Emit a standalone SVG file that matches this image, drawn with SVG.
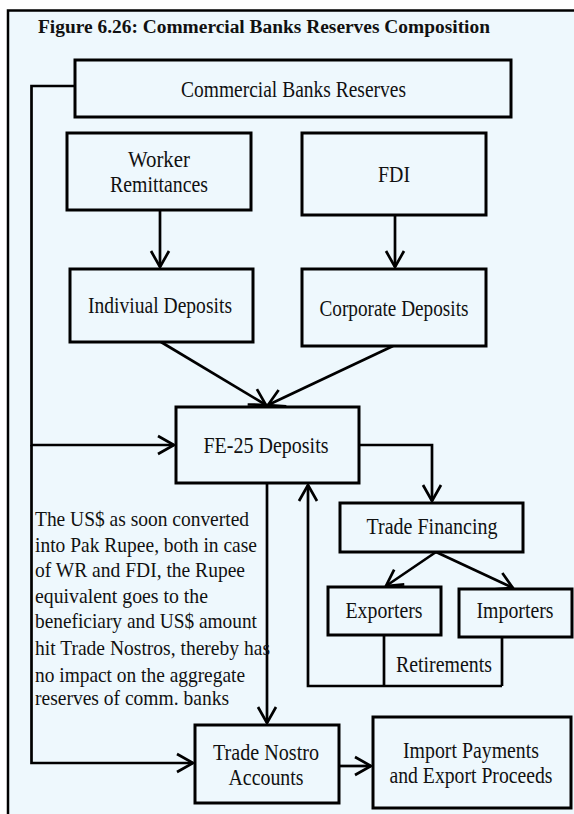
<svg xmlns="http://www.w3.org/2000/svg" width="574" height="814" viewBox="0 0 574 814">
<style>
.box{fill:#EEF8FD;stroke:#000;stroke-width:3}
.ln{fill:none;stroke:#000;stroke-width:2.7}
.t{font-family:"Liberation Serif","Times New Roman",serif;font-size:22.5px;fill:#111;text-anchor:middle}
.p{font-family:"Liberation Serif","Times New Roman",serif;font-size:22px;fill:#111}
.title{font-family:"Liberation Serif","Times New Roman",serif;font-size:18.5px;font-weight:bold;fill:#111}
</style>
<defs>
<marker id="arr" markerUnits="userSpaceOnUse" viewBox="-20 -12 24 24" markerWidth="24" markerHeight="24" refX="0" refY="0" orient="auto">
<path d="M-16,-9 L0,0 L-16,9" fill="none" stroke="#000" stroke-width="2.7"/>
</marker>
</defs>
<rect x="0" y="0" width="574" height="814" fill="#fff"/>
<rect x="8" y="10.5" width="566" height="803.5" fill="#EEF8FD"/>
<path d="M8,814 V10.5 H574" fill="none" stroke="#000" stroke-width="2.5"/>
<text class="title" x="38" y="33" textLength="452" lengthAdjust="spacingAndGlyphs">Figure 6.26: Commercial Banks Reserves Composition</text>

<g id="connectors">
<path class="ln" d="M75,86 H31.5 V445 H174" marker-end="url(#arr)"/>
<path class="ln" d="M31.5,445 V763 H193" marker-end="url(#arr)"/>
<path class="ln" d="M160,210 V267" marker-end="url(#arr)"/>
<path class="ln" d="M395,215 V267" marker-end="url(#arr)"/>
<path class="ln" d="M161,342 L266,405" marker-end="url(#arr)"/>
<path class="ln" d="M393,346 L268,405" marker-end="url(#arr)"/>
<path class="ln" d="M359,445 H432 V501" marker-end="url(#arr)"/>
<path class="ln" d="M436,552 L386,586" marker-end="url(#arr)"/>
<path class="ln" d="M436,552 L513,588" marker-end="url(#arr)"/>
<path class="ln" d="M267,483 V723" marker-end="url(#arr)"/>
<path class="ln" d="M384,635 V686 M502,637 V686 M502,686 H308 V485" marker-end="url(#arr)"/>
<path class="ln" d="M339,766 H371" marker-end="url(#arr)"/>
</g>

<g id="cbr">
<rect class="box" x="75" y="60" width="436" height="57"/>
<text class="t" x="293.5" y="97" textLength="225" lengthAdjust="spacingAndGlyphs">Commercial Banks Reserves</text>
</g>
<g id="wr">
<rect class="box" x="67" y="133" width="184" height="77"/>
<text class="t" x="159" y="167" textLength="62" lengthAdjust="spacingAndGlyphs">Worker</text>
<text class="t" x="159" y="192" textLength="98" lengthAdjust="spacingAndGlyphs">Remittances</text>
</g>
<g id="fdi">
<rect class="box" x="302" y="133" width="184" height="82"/>
<text class="t" x="394" y="182" textLength="32" lengthAdjust="spacingAndGlyphs">FDI</text>
</g>
<g id="indiv">
<rect class="box" x="70" y="269" width="183" height="73"/>
<text class="t" x="160" y="313" textLength="144" lengthAdjust="spacingAndGlyphs">Indiviual Deposits</text>
</g>
<g id="corp">
<rect class="box" x="302" y="269" width="184" height="77"/>
<text class="t" x="394" y="316" textLength="149" lengthAdjust="spacingAndGlyphs">Corporate Deposits</text>
</g>
<g id="fe25">
<rect class="box" x="176" y="407" width="183" height="76"/>
<text class="t" x="266" y="453" textLength="125" lengthAdjust="spacingAndGlyphs">FE-25 Deposits</text>
</g>
<g id="tf">
<rect class="box" x="340" y="503" width="183" height="49"/>
<text class="t" x="432" y="534" textLength="131" lengthAdjust="spacingAndGlyphs">Trade Financing</text>
</g>
<g id="exp">
<rect class="box" x="328" y="587" width="113" height="48"/>
<text class="t" x="384" y="618" textLength="77" lengthAdjust="spacingAndGlyphs">Exporters</text>
</g>
<g id="imp">
<rect class="box" x="459" y="589" width="113" height="48"/>
<text class="t" x="515" y="618" textLength="77" lengthAdjust="spacingAndGlyphs">Importers</text>
</g>
<g id="ret">
<text class="t" x="444" y="672" textLength="96" lengthAdjust="spacingAndGlyphs">Retirements</text>
</g>
<g id="note">
<text class="p" x="35" y="526" textLength="214" lengthAdjust="spacingAndGlyphs">The US$ as soon converted</text>
<text class="p" x="35" y="552" textLength="222" lengthAdjust="spacingAndGlyphs">into Pak Rupee, both in case</text>
<text class="p" x="35" y="577" textLength="210" lengthAdjust="spacingAndGlyphs">of WR and FDI, the Rupee</text>
<text class="p" x="35" y="603" textLength="173" lengthAdjust="spacingAndGlyphs">equivalent goes to the</text>
<text class="p" x="35" y="628" textLength="222" lengthAdjust="spacingAndGlyphs">beneficiary and US$ amount</text>
<text class="p" x="35" y="655" textLength="235" lengthAdjust="spacingAndGlyphs">hit Trade Nostros, thereby has</text>
<text class="p" x="35" y="682" textLength="210" lengthAdjust="spacingAndGlyphs">no impact on the aggregate</text>
<text class="p" x="35" y="705" textLength="194" lengthAdjust="spacingAndGlyphs">reserves of comm. banks</text>
</g>
<g id="tn">
<rect class="box" x="195" y="725" width="144" height="78"/>
<text class="t" x="266" y="760" textLength="106" lengthAdjust="spacingAndGlyphs">Trade Nostro</text>
<text class="t" x="266" y="785" textLength="75" lengthAdjust="spacingAndGlyphs">Accounts</text>
</g>
<g id="ipep">
<rect class="box" x="373" y="717" width="198" height="91"/>
<text class="t" x="471" y="758" textLength="136" lengthAdjust="spacingAndGlyphs">Import Payments</text>
<text class="t" x="471" y="783" font-size="22" textLength="163" lengthAdjust="spacingAndGlyphs">and Export Proceeds</text>
</g>
</svg>
